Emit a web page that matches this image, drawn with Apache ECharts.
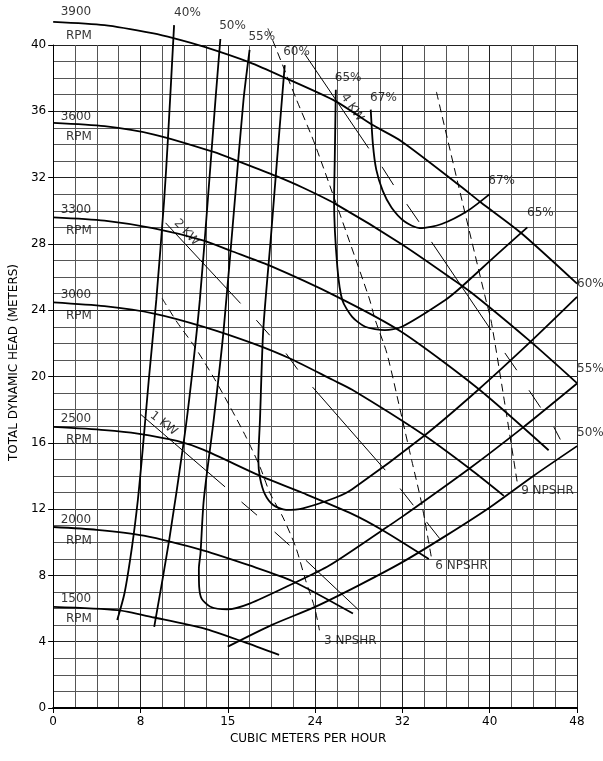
<!DOCTYPE html>
<html>
<head>
<meta charset="utf-8">
<script src="https://cdn.jsdelivr.net/npm/echarts@6/dist/echarts.min.js"></script>
<style>html,body{margin:0;padding:0;background:#fff}#c{width:603px;height:761px}</style>
</head>
<body>
<div id="c"></div>
<script>
// ---- tick labels ----
const xTickLabels = ['0','8','15','24','32','40','48'];
const yTickLabels = ['0','4','8','12','16','20','24','28','32','36','40'];

// ---- head curves (RPM) ----
const rpm3900 = [[0,41.4],[4.7,41.2],[9.2,40.7],[11.1,40.4],[13.8,39.9],[18.0,38.95],[21.3,38.0],[25.9,36.6],[29.2,35.2],[31.9,34.2],[37.1,31.6],[39.2,30.5],[42.8,28.7],[48,25.6]];
const rpm3600 = [[0,35.3],[4.7,35.1],[9.25,34.6],[14.7,33.55],[17.1,32.95],[20.4,32.1],[22.85,31.4],[25.9,30.4],[31.9,28.0],[37.4,25.5],[39.2,24.6],[43.75,22.1],[48,19.6]];
const rpm3300 = [[0,29.6],[4.7,29.4],[9.24,28.93],[13.8,28.2],[16.2,27.6],[19.8,26.7],[25.9,24.85],[31.9,22.7],[38.9,19.29],[45.4,15.55]];
const rpm3000 = [[0,24.47],[4.7,24.24],[9.24,23.8],[13.8,23.0],[18.3,22.0],[21.65,21.1],[25.6,19.8],[27.4,19.2],[33.76,16.56],[38.15,14.45],[41.3,12.8]];
const rpm2500 = [[0,16.96],[4.72,16.77],[7.75,16.56],[11.35,16.11],[13.8,15.57],[18.98,14.0],[22.89,12.97],[27.43,11.7],[30.15,10.74],[34.42,8.99]];
const rpm2000 = [[0,10.92],[4,10.75],[8.3,10.4],[13.8,9.5],[18,8.6],[21.95,7.65],[27.47,5.7]];
const rpm1500 = [[0,6.1],[5.9,5.9],[9.24,5.46],[13.8,4.8],[17.4,4.0],[20.7,3.2]];

// ---- efficiency curves ----
const eff40 = [[11.08,41.2],[10.51,34.27],[10.17,30.65],[9.45,24.62],[8.76,19.79],[8.2,15.57],[7.76,12.55],[7.22,9.71],[6.54,6.94],[5.87,5.31]];
const eff50L = [[15.32,40.36],[14.87,36.68],[14.17,30.65],[13.44,24.62],[12.67,19.79],[11.99,16.17],[10.63,10.13],[9.26,4.89]];
const eff50R = [[16,3.7],[20,5.0],[24,6.1],[28,7.4],[32,8.8],[36,10.4],[40,12.1],[44,14.0],[48,15.8]];
const eff55 = [[18.0,39.7],[17.44,36.68],[16.65,30.65],[15.62,22.8],[14.71,17.38],[13.8,12.55],[13.5,9.33],[13.35,8.4],[13.38,7.3],[13.6,6.6],[14.41,6.11],[15.92,5.95],[18,6.3],[21.95,7.5],[25.3,8.6],[30.1,10.7],[31.9,11.5],[38.15,14.45],[43,16.9],[48,19.58]];
const eff60 = [[21.22,38.79],[20.61,33.85],[19.93,28.24],[19.25,22.81],[18.95,17.38],[18.8,14.96],[18.95,13.9],[19.4,12.9],[20.16,12.25],[21.34,11.95],[22.89,12.05],[25.9,12.7],[27.4,13.2],[34.06,16.46],[38.9,19.17],[43.75,22.1],[48,24.8]];
const eff65 = [[25.9,37.3],[25.8,33],[25.74,30.6],[26.04,26.6],[26.5,24.6],[27.4,23.6],[28.6,23.0],[30.4,22.8],[31.95,23.0],[35.9,24.6],[37.4,25.4],[40.4,27.2],[43.45,29.0]];
const eff67 = [[29.1,36.1],[29.3,34],[29.6,32.5],[30.2,31.2],[31.0,30.2],[32.2,29.35],[33.6,28.95],[35.6,29.2],[38.0,30.0],[40.0,31.0]];

// ---- power lines (segments separated by gaps) ----
const kw1 = [[8.03,17.71],[15.75,13.34],['-','-'],[17.26,12.43],[18.68,11.63],['-','-'],[20.29,10.62],[21.65,9.82],['-','-'],[23.16,8.91],[28.01,5.9]];
const kw2 = [[10.3,29.27],[17.17,24.41],['-','-'],[18.62,23.4],[19.84,22.49],['-','-'],[21.34,21.39],[22.41,20.42],['-','-'],[23.77,19.36],[30.43,14.35],['-','-'],[31.79,13.24],[33.0,12.23],['-','-'],[34.21,11.23],[35.42,10.22]];
const kw4 = [[23.02,39.49],[28.92,33.76],['-','-'],[30.13,32.65],[31.19,31.55],['-','-'],[32.4,30.4],[33.52,29.33],['-','-'],[34.67,28.12],[40.12,22.8],['-','-'],[41.39,21.42],[42.48,20.38],['-','-'],[43.6,19.17],[44.66,18.13],['-','-'],[45.87,16.96],[46.47,16.2]];

// ---- NPSHR lines ----
const npshr3 = [[9.99,24.71],[11.35,23.28],[12.87,21.89],[14.69,19.96],[16.23,18.15],[17.68,16.34],[18.96,14.53],[19.87,12.96],[21.05,11.51],[22.23,9.7],[23.13,7.71],[23.95,6.08],[24.4,4.69]];
const npshr6 = [[19.68,41.0],[22.3,36.7],[24.07,33.86],[28.92,24.8],[29.52,23.4],[30.58,21.4],[31.95,17.54],[32.85,14.95],[33.76,12.35],[34.67,9.03]];
const npshr9 = [[35.12,37.17],[37.09,31.65],[39.66,24.6],[40.12,23.4],[41.48,17.97],[42.54,13.54]];

// ---- text labels ----
const rpmNames = ['3900','3600','3300','3000','2500','2000','1500'];
const rpmNamePos = [[2.13,41.95],[2.13,35.66],[2.13,30.05],[2.13,24.92],[2.13,17.4],[2.13,11.34],[2.13,6.58]];
const rpmUnitPos = [[2.4,40.5],[2.4,34.45],[2.4,28.78],[2.4,23.65],[2.4,16.17],[2.4,10.07],[2.4,5.37]];
const effTopNames = ['40%','50%','55%','60%','65%','67%'];
const effTopPos = [[12.35,41.9],[16.48,41.1],[19.16,40.48],[22.34,39.55],[27.07,37.97],[30.31,36.8]];
const effInNames = ['67%','65%'];
const effInPos = [[41.14,31.78],[44.69,29.83]];
const effEdgeNames = ['60%','55%','50%'];
const effEdgePos = [[48.05,25.58],[48.05,20.42],[48.05,16.54]];
const npshrNames = ['3 NPSHR','6 NPSHR','9 NPSHR'];
const npshrPos = [[24.86,4.02],[35.06,8.52],[42.93,13.05]];
const kwNames = ['1 KW','2 KW','4 KW'];
const kwPos = [[10.17,17.13],[12.26,28.66],[27.43,36.2]];
const kwRot = [-38,-47,-55];

const FONT = 'DejaVu Sans';
const thick = d => ({type:'line', data:d, symbol:'none', smooth:0.25, clip:false, silent:true,
  lineStyle:{color:'#000', width:1.8}});
const thin = d => ({type:'line', data:d, symbol:'none', clip:false, silent:true, connectNulls:false,
  lineStyle:{color:'#000', width:1}});
const dashed = d => ({type:'line', data:d, symbol:'none', smooth:0.25, clip:false, silent:true,
  lineStyle:{color:'#000', width:1, type:[8,5]}});

function textItems(names, pos, align, rot){
  return names.map((n,i)=>({value:pos[i], label:{formatter:n, align:align, rotate: rot ? rot[i] : 0}}));
}
const labelData = [].concat(
  textItems(rpmNames, rpmNamePos, 'center'),
  textItems(rpmNames.map(()=> 'RPM'), rpmUnitPos, 'center'),
  textItems(effTopNames, effTopPos, 'center'),
  textItems(effInNames, effInPos, 'center'),
  textItems(effEdgeNames, effEdgePos, 'left'),
  textItems(npshrNames, npshrPos, 'left'),
  textItems(kwNames, kwPos, 'center', kwRot)
);

const chart = echarts.init(document.getElementById('c'), null, {renderer:'canvas'});
chart.setOption({
  animation:false,
  backgroundColor:'#fff',
  grid:{left:48, right:26, top:45, bottom:53, containLabel:false},
  xAxis:{
    type:'value', min:0, max:48, interval:8,
    name:'CUBIC METERS PER HOUR', nameLocation:'middle', nameGap:24,
    nameTextStyle:{fontFamily:FONT, fontSize:12, color:'#000', padding:[0,14,0,0]},
    axisLine:{show:true, lineStyle:{color:'#000', width:2}},
    axisTick:{show:true, length:5, lineStyle:{color:'#000'}},
    axisLabel:{fontFamily:FONT, fontSize:12, color:'#000', margin:8,
      formatter:v => xTickLabels[Math.round(v/8)]},
    splitLine:{show:true, lineStyle:{color:'#222', width:1}},
    minorTick:{show:false, splitNumber:4},
    minorSplitLine:{show:true, lineStyle:{color:'#555', width:1}}
  },
  yAxis:{
    type:'value', min:0, max:40, interval:4,
    name:'TOTAL DYNAMIC HEAD (METERS)', nameLocation:'middle', nameGap:33,
    nameTextStyle:{fontFamily:FONT, fontSize:12, color:'#000', padding:[0,0,0,28]},
    axisLine:{show:true, lineStyle:{color:'#000', width:1}},
    axisTick:{show:true, length:5, lineStyle:{color:'#000'}},
    axisLabel:{fontFamily:FONT, fontSize:12, color:'#000', margin:7,
      formatter:v => yTickLabels[Math.round(v/4)]},
    splitLine:{show:true, lineStyle:{color:'#222', width:1}},
    minorTick:{show:false, splitNumber:4},
    minorSplitLine:{show:true, lineStyle:{color:'#555', width:1}}
  },
  series:[
    thick(rpm3900), thick(rpm3600), thick(rpm3300), thick(rpm3000), thick(rpm2500), thick(rpm2000), thick(rpm1500),
    thick(eff40), thick(eff50L), thick(eff50R), thick(eff55), thick(eff60), thick(eff65), thick(eff67),
    thin(kw1), thin(kw2), thin(kw4),
    dashed(npshr3), dashed(npshr6), dashed(npshr9),
    {type:'scatter', data:labelData, symbolSize:1, clip:false, silent:true,
      itemStyle:{color:'rgba(0,0,0,0)'},
      label:{show:true, position:[0,0], verticalAlign:'middle', fontFamily:FONT, fontSize:12, color:'#000'}}
  ]
});
</script>
</body>
</html>
